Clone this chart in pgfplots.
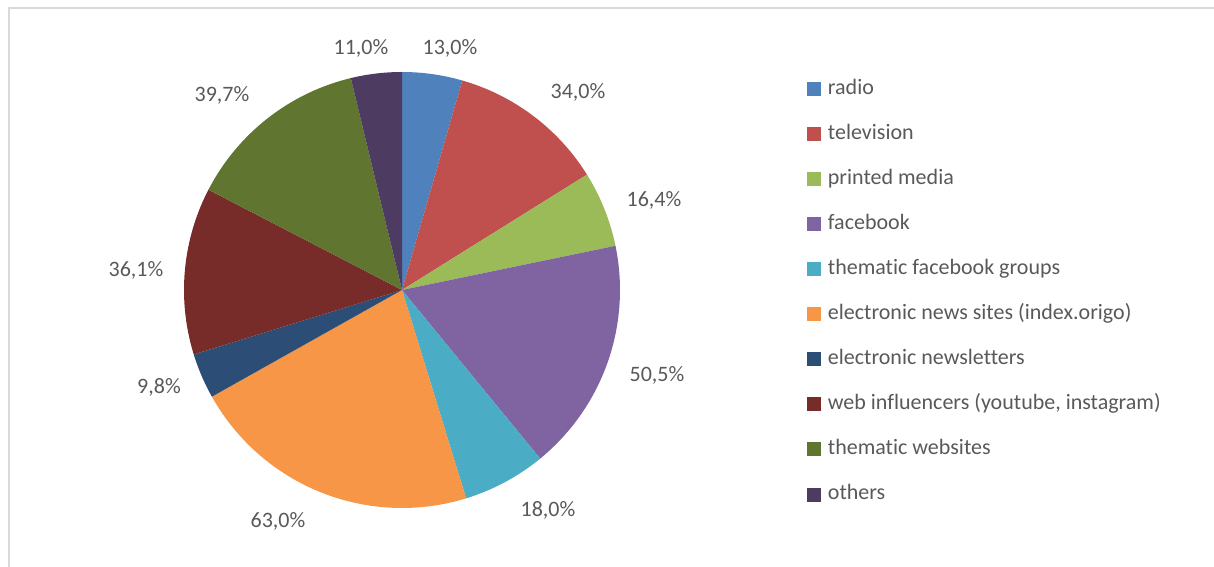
\documentclass[border=0pt]{standalone}
\usepackage{fontspec}
\setmainfont{Carlito}[Ligatures={NoCommon}]
\usepackage{pgfplots}
\pgfplotsset{compat=1.18}
\definecolor{cRadio}{HTML}{4F81BD}
\definecolor{cTV}{HTML}{C0504D}
\definecolor{cPrint}{HTML}{9BBB59}
\definecolor{cFB}{HTML}{8064A2}
\definecolor{cFBG}{HTML}{4BACC6}
\definecolor{cNews}{HTML}{F79646}
\definecolor{cNL}{HTML}{2C4D75}
\definecolor{cWeb}{HTML}{772C2A}
\definecolor{cTW}{HTML}{5F7530}
\definecolor{cOth}{HTML}{4D3B62}
\definecolor{txt}{HTML}{595959}
\definecolor{frame}{HTML}{D9D9D9}
% total of all values = 291.5
\newcommand{\slice}[4]{% #1 cumulative before, #2 value, #3 colour, #4 name
  \pgfmathsetmacro\angA{90-#1/291.5*360}%
  \pgfmathsetmacro\angB{90-(#1+#2)/291.5*360}%
  \addplot[fill=#3, draw=none, domain=\angB:\angA, samples=80, variable=\t]
    ({402+218*cos(\t)},{277+218*sin(\t)}) -- (axis cs:402,277) -- cycle;
  \addlegendentry{#4}
}
\begin{document}
\begin{tikzpicture}
\begin{axis}[
  scale only axis, width=910.5pt, height=425.25pt,
  xmin=0, xmax=1214, ymin=0, ymax=567,
  hide axis, clip=false,
  legend cell align=left,
  legend image code/.code={\fill[#1] (0pt,-5.25pt) rectangle (10.5pt,5.25pt); \path (14.5pt,0pt);},
  legend style={draw=none, fill=none, at={(axis cs:803,493)}, anchor=north west,
    font=\fontsize{16.5}{20}\selectfont, text=txt, row sep=15.8pt,
    nodes={inner sep=1pt, text height=12pt, text depth=4pt}},
]
\slice{0}{13}{cRadio}{radio}
\slice{13}{34}{cTV}{television}
\slice{47}{16.4}{cPrint}{printed media}
\slice{63.4}{50.5}{cFB}{facebook}
\slice{113.9}{18}{cFBG}{thematic facebook groups}
\slice{131.9}{63}{cNews}{electronic news sites (index.origo)}
\slice{194.9}{9.8}{cNL}{electronic newsletters}
\slice{204.7}{36.1}{cWeb}{web influencers (youtube, instagram)}
\slice{240.8}{39.7}{cTW}{thematic websites}
\slice{280.5}{11}{cOth}{others}
\begin{scope}[every node/.style={font=\fontsize{16.5}{20}\selectfont, text=txt}]
\node at (axis cs:361,519) {11,0\%};
\node at (axis cs:450,519) {13,0\%};
\node at (axis cs:578,475) {34,0\%};
\node at (axis cs:654,367) {16,4\%};
\node at (axis cs:657,192) {50,5\%};
\node at (axis cs:548,57) {18,0\%};
\node at (axis cs:278,46) {63,0\%};
\node at (axis cs:159,180) {9,8\%};
\node at (axis cs:136,297) {36,1\%};
\node at (axis cs:222,472) {39,7\%};
\end{scope}
\draw[frame, line width=1.5pt] (axis cs:8.5,0) -- (axis cs:8.5,559) -- (axis cs:1214,559);
\coordinate (bbsw) at (axis cs:0,0);
\coordinate (bbne) at (axis cs:1214,567);
\end{axis}
\pgfresetboundingbox
\useasboundingbox (bbsw) rectangle (bbne);
\end{tikzpicture}
\end{document}
